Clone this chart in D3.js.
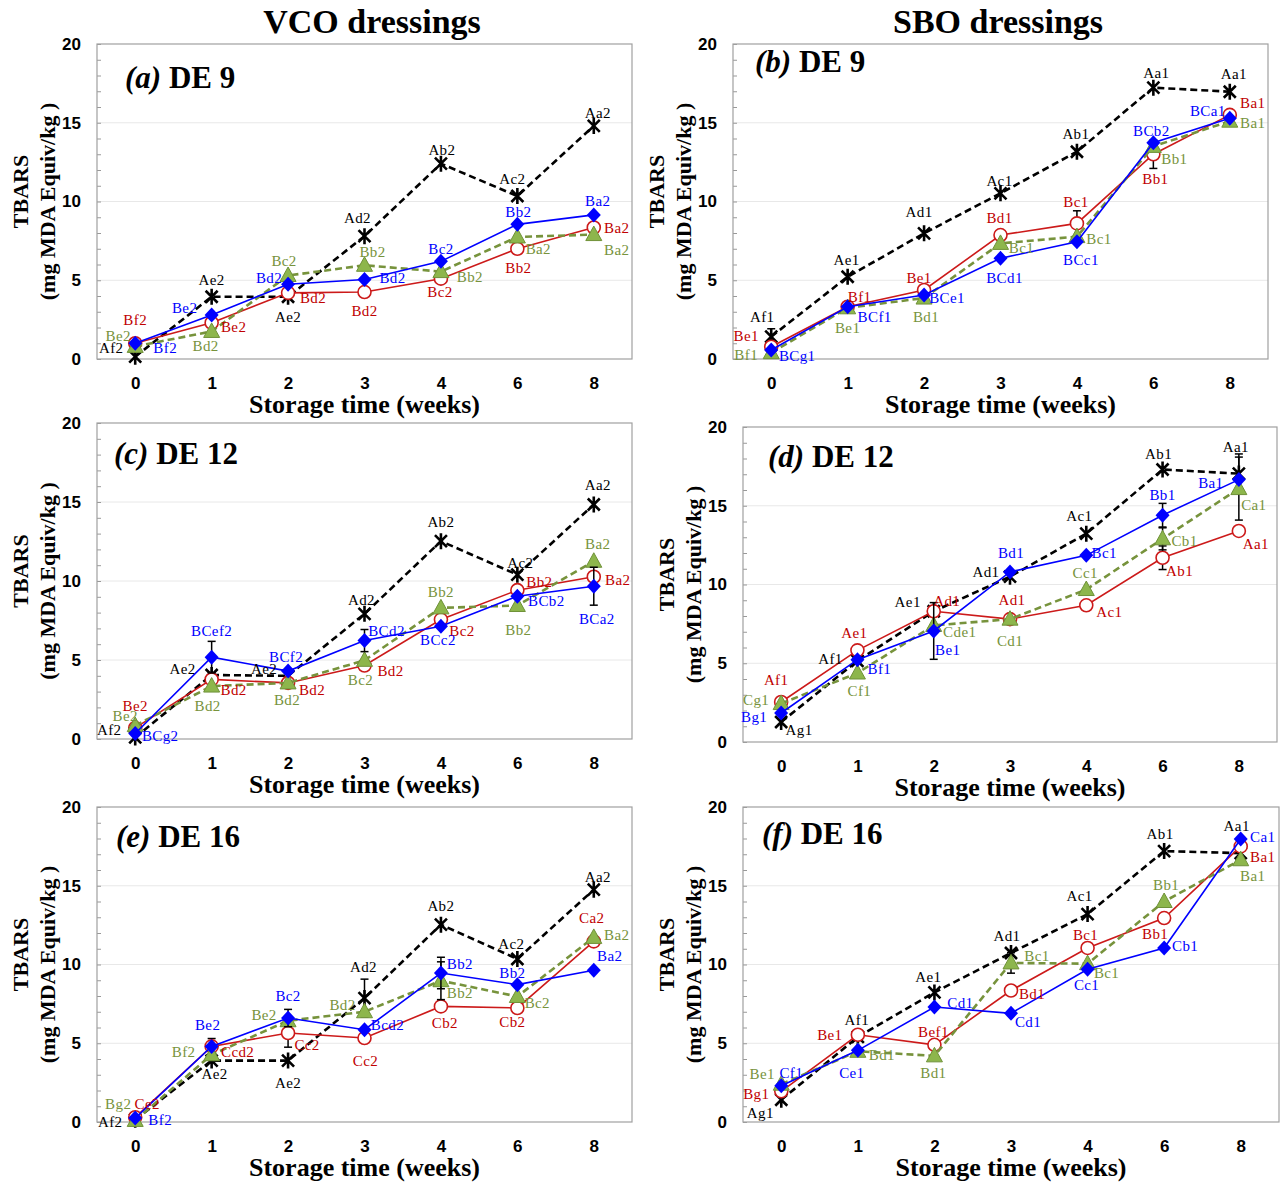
<!DOCTYPE html>
<html>
<head>
<meta charset="utf-8">
<script src="https://cdn.jsdelivr.net/npm/d3@7"></script>
<style>
  body { margin: 0; background: #fff; }
  svg { display: block; font-family: "Liberation Serif", "Times New Roman", serif; }
  .tick text { font-weight: bold; font-size: 17px; fill: #000; }
</style>
</head>
<body>
<svg id="chart" width="1282" height="1183"></svg>
<script>
var weeks = ["0", "1", "2", "3", "4", "6", "8"];
var yTicks = [0, 5, 10, 15, 20];
var seriesKeys = ["black", "red", "green", "blue"];

// values per panel, series order: black, red, green, blue
var valuesA = [
  [0.15, 3.95, 3.95, 7.8, 12.4, 10.35, 14.8],
  [1.0, 2.3, 4.2, 4.25, 5.1, 7.0, 8.35],
  [0.8, 1.75, 5.3, 5.95, 5.55, 7.75, 7.9],
  [1.0, 2.8, 4.75, 5.05, 6.2, 8.55, 9.15]
];
var valuesB = [
  [1.42, 5.22, 7.98, 10.52, 13.16, 17.23, 16.97],
  [0.78, 3.32, 4.38, 7.87, 8.61, 13.0, 15.5],
  [0.4, 3.25, 3.87, 7.34, 7.77, 13.5, 15.1],
  [0.57, 3.32, 4.06, 6.39, 7.45, 13.73, 15.28]
];
var valuesC = [
  [0.1, 4.05, 4.0, 7.92, 12.52, 10.4, 14.84],
  [0.7, 3.77, 3.55, 4.65, 7.56, 9.42, 10.27],
  [0.85, 3.35, 3.55, 4.98, 8.3, 8.45, 11.25],
  [0.35, 5.18, 4.3, 6.23, 7.14, 9.04, 9.67]
];
var valuesD = [
  [1.27, 5.15, 8.3, 10.5, 13.23, 17.3, 17.04],
  [2.54, 5.82, 8.3, 7.8, 8.68, 11.7, 13.4],
  [2.44, 4.38, 7.4, 7.8, 9.68, 12.9, 16.09],
  [1.84, 5.23, 7.05, 10.8, 11.85, 14.4, 16.66]
];
var valuesE = [
  [0.15, 3.9, 3.9, 7.87, 12.53, 10.35, 14.75],
  [0.3, 4.8, 5.65, 5.33, 7.34, 7.24, 11.47],
  [0.1, 4.27, 6.43, 7.0, 8.97, 7.97, 11.72],
  [0.25, 4.8, 6.6, 5.86, 9.46, 8.72, 9.63]
];
var valuesF = [
  [1.41, 5.4, 8.23, 10.73, 13.2, 17.2, 17.07],
  [1.95, 5.54, 4.9, 8.35, 11.05, 12.95, 17.5],
  [2.4, 4.49, 4.2, 10.1, 10.05, 14.0, 16.65],
  [2.3, 4.55, 7.3, 6.9, 9.7, 11.05, 17.97]
];

var errorsA = [
  [0, 0, 0, 0, 0, 0, 0], [0, 0, 0, 0, 0, 0, 0], [0, 0, 0, 0, 0, 0, 0], [0, 0, 0, 0, 0, 0, 0]
];
var errorsB = [
  [0.5, 0, 0, 0, 0, 0, 0], [0, 0, 0, 0, 0.8, 0.9, 0], [0, 0, 0, 0, 0, 0, 0], [0, 0, 0, 0, 0, 0, 0]
];
var errorsC = [
  [0, 0, 0, 0, 0, 0, 0], [0, 0, 0, 0, 0, 0, 0], [0, 0, 0, 0, 0, 0, 0], [0, 1.0, 0, 0.7, 0, 0, 1.2]
];
var errorsD = [
  [0, 0, 0, 0, 0, 0, 1.25], [0, 0, 0, 0, 0, 0.75, 0], [0, 0, 0, 0, 0, 0.7, 2.0], [0, 0, 1.8, 0, 0, 0.75, 0]
];
var errorsE = [
  [0, 0, 0, 1.2, 0, 0, 0], [0, 0.5, 0.9, 0, 0, 0, 0], [0, 0, 0, 0, 1.2, 0, 0], [0, 0, 0.55, 0, 1.0, 0, 0]
];
var errorsF = [
  [0, 0, 0, 0, 0, 0, 0], [0, 0, 0, 0, 0, 0, 0], [0, 0, 0, 0.65, 0, 0, 0], [0, 0, 0, 0, 0, 0, 0]
];

var labelsA = [
  ["Af2", "Ae2", "Ae2", "Ad2", "Ab2", "Ac2", "Aa2"],
  ["Bf2", "Be2", "Bd2", "Bd2", "Bc2", "Bb2", "Ba2"],
  ["Be2", "Bd2", "Bc2", "Bb2", "Bb2", "Ba2", "Ba2"],
  ["Bf2", "Be2", "Bd2", "Bd2", "Bc2", "Bb2", "Ba2"]
];
var labelsB = [
  ["Af1", "Ae1", "Ad1", "Ac1", "Ab1", "Aa1", "Aa1"],
  ["Be1", "Bf1", "Be1", "Bd1", "Bc1", "Bb1", "Ba1"],
  ["Bf1", "Be1", "Bd1", "Bc1", "Bc1", "Bb1", "Ba1"],
  ["BCg1", "BCf1", "BCe1", "BCd1", "BCc1", "BCb2", "BCa1"]
];
var labelsC = [
  ["Af2", "Ae2", "Ae2", "Ad2", "Ab2", "Ac2", "Aa2"],
  ["Be2", "Bd2", "Bd2", "Bd2", "Bc2", "Bb2", "Ba2"],
  ["Be2", "Bd2", "Bd2", "Bc2", "Bb2", "Bb2", "Ba2"],
  ["BCg2", "BCef2", "BCf2", "BCd2", "BCc2", "BCb2", "BCa2"]
];
var labelsD = [
  ["Ag1", "Af1", "Ae1", "Ad1", "Ac1", "Ab1", "Aa1"],
  ["Af1", "Ae1", "Ad1", "Ad1", "Ac1", "Ab1", "Aa1"],
  ["Cg1", "Cf1", "Cde1", "Cd1", "Cc1", "Cb1", "Ca1"],
  ["Bg1", "Bf1", "Be1", "Bd1", "Bc1", "Bb1", "Ba1"]
];
var labelsE = [
  ["Af2", "Ae2", "Ae2", "Ad2", "Ab2", "Ac2", "Aa2"],
  ["Ce2", "Ccd2", "Cc2", "Cc2", "Cb2", "Cb2", "Ca2"],
  ["Bg2", "Bf2", "Be2", "Bd2", "Bb2", "Bc2", "Ba2"],
  ["Bf2", "Be2", "Bc2", "Bcd2", "Bb2", "Bb2", "Ba2"]
];
var labelsF = [
  ["Ag1", "Af1", "Ae1", "Ad1", "Ac1", "Ab1", "Aa1"],
  ["Bg1", "Be1", "Bef1", "Bd1", "Bc1", "Bb1", "Ba1"],
  ["Be1", "Bd1", "Bd1", "Bc1", "Bc1", "Bb1", "Ba1"],
  ["Cf1", "Ce1", "Cd1", "Cd1", "Cc1", "Cb1", "Ca1"]
];

// where each letter label sits, relative to its marker (px)
var offsetsA = [
  [[-24, -9], [0, -17], [0, 20], [-7, -18], [1, -14], [-5, -17], [4, -13]],
  [[0, -24], [22, 4], [25, 5], [0, 19], [-1, 13], [1, 19], [23, 0]],
  [[-17, -11], [-6, 14], [-4, -15], [8, -14], [29, 5], [21, 12], [23, 15]],
  [[30, 4], [-27, -7], [-19, -6], [28, -2], [0, -13], [1, -13], [4, -14]]
];
var offsetsB = [
  [[-9, -20], [-1, -17], [-5, -22], [-1, -13], [-1, -18], [3, -15], [4, -18]],
  [[-25, -11], [12, -10], [-5, -12], [-1, -17], [-1, -22], [2, 24], [23, -12]],
  [[-25, 2], [0, 20], [2, 19], [21, 4], [22, 2], [21, 12], [23, 2]],
  [[26, 6], [27, 10], [23, 3], [4, 19], [4, 18], [-2, -12], [-22, -8]]
];
var offsetsC = [
  [[-26, -8], [-29, -6], [-24, -7], [-3, -14], [0, -19], [3, -12], [4, -20]],
  [[0, -22], [22, 10], [24, 7], [26, 5], [21, 11], [22, -8], [24, 3]],
  [[-10, -10], [-4, 20], [-1, 17], [-4, 19], [0, -16], [1, 24], [4, -18]],
  [[25, 2], [0, -26], [-2, -14], [22, -10], [-3, 14], [29, 5], [3, 33]]
];
var offsetsD = [
  [[18, 8], [-27, -2], [-26, -10], [-24, -5], [-7, -18], [-4, -16], [-3, -27]],
  [[-5, -22], [-3, -18], [13, -11], [2, -19], [23, 6], [17, 13], [17, 13]],
  [[-25, -4], [2, 18], [26, 6], [0, 22], [-1, -17], [22, 2], [15, 16]],
  [[-27, 4], [22, 9], [14, 19], [1, -19], [18, -3], [0, -20], [-28, 3]]
];
var offsetsE = [
  [[-25, 2], [3, 13], [0, 22], [-1, -31], [0, -19], [-6, -15], [4, -13]],
  [[12, -14], [26, 5], [19, 12], [1, 23], [4, 16], [-5, 14], [-2, -24]],
  [[-17, -17], [-28, -3], [-24, -6], [-22, -7], [19, 12], [20, 6], [23, -3]],
  [[25, 2], [-4, -22], [0, -22], [23, -5], [19, -9], [-5, -12], [16, -15]]
];
var offsetsF = [
  [[-21, 13], [-1, -17], [-6, -16], [-4, -17], [-8, -18], [-4, -17], [-4, -27]],
  [[-25, 2], [-28, 0], [-1, -13], [21, 3], [-2, -13], [-9, 16], [22, 10]],
  [[-19, -10], [24, 3], [-1, 17], [26, -7], [19, 9], [2, -17], [12, 16]],
  [[10, -13], [-6, 22], [26, -4], [17, 8], [-1, 16], [21, -2], [22, -2]]
];

var panels = [
  {head: "(a)", de: "DE 9", box: [97, 44, 632, 359], headAt: [125, 88],
   values: valuesA, errors: errorsA, labels: labelsA, offsets: offsetsA},
  {head: "(b)", de: "DE 9", box: [733, 44, 1268, 359], headAt: [755, 72],
   values: valuesB, errors: errorsB, labels: labelsB, offsets: offsetsB},
  {head: "(c)", de: "DE 12", box: [97, 423, 632, 739], headAt: [114, 464],
   values: valuesC, errors: errorsC, labels: labelsC, offsets: offsetsC},
  {head: "(d)", de: "DE 12", box: [743, 427, 1277, 742], headAt: [768, 467],
   values: valuesD, errors: errorsD, labels: labelsD, offsets: offsetsD},
  {head: "(e)", de: "DE 16", box: [97, 807, 632, 1122], headAt: [116, 847],
   values: valuesE, errors: errorsE, labels: labelsE, offsets: offsetsE},
  {head: "(f)", de: "DE 16", box: [743, 807, 1279, 1122], headAt: [762, 844],
   values: valuesF, errors: errorsF, labels: labelsF, offsets: offsetsF}
];

var style = {
  black: {line: "#000", text: "#000", width: 2.6, dash: "7,4"},
  red:   {line: "#cc1a1a", text: "#c00000", width: 1.6, dash: null},
  green: {line: "#77933c", text: "#77933c", width: 2.6, dash: "7,4"},
  blue:  {line: "#0000ff", text: "#0000ff", width: 1.6, dash: null}
};

var svg = d3.select("#chart");
svg.append("rect").attr("width", 1282).attr("height", 1183).attr("fill", "#fff");

svg.append("text").attr("x", 372).attr("y", 33).attr("text-anchor", "middle")
    .attr("font-size", 34).attr("font-weight", "bold").text("VCO dressings");
svg.append("text").attr("x", 998).attr("y", 33).attr("text-anchor", "middle")
    .attr("font-size", 34).attr("font-weight", "bold").text("SBO dressings");

panels.forEach(function(p) {
  var left = p.box[0], top = p.box[1], right = p.box[2], bottom = p.box[3];

  var x = d3.scalePoint().domain(weeks).range([left, right]).padding(0.5);
  var y = d3.scaleLinear().domain([0, 20]).range([bottom, top]);

  var g = svg.append("g");

  // gridlines
  g.selectAll(".grid")
      .data(yTicks.filter(function(d) { return d > 0 && d < 20; }))
    .enter().append("line")
      .attr("x1", left).attr("x2", right)
      .attr("y1", function(d) { return y(d); })
      .attr("y2", function(d) { return y(d); })
      .attr("stroke", "#e8e8e8").attr("stroke-width", 1);

  // minor ticks on the left edge
  g.append("g")
      .attr("transform", "translate(" + left + ",0)")
      .call(d3.axisLeft(y).tickValues(d3.range(0, 21)).tickSize(-4).tickFormat(""))
      .call(function(s) {
        s.select(".domain").remove();
        s.selectAll("line").attr("stroke", "#999");
      });

  g.append("rect")
      .attr("x", left).attr("y", top)
      .attr("width", right - left).attr("height", bottom - top)
      .attr("fill", "none").attr("stroke", "#a0a0a0").attr("stroke-width", 1.2);

  // y axis labels
  g.append("g")
      .attr("transform", "translate(" + left + ",0)")
      .call(d3.axisLeft(y).tickValues(yTicks).tickSize(0).tickPadding(16))
      .call(function(s) { s.select(".domain").remove(); });

  // x axis labels
  g.append("g")
      .attr("transform", "translate(0," + bottom + ")")
      .call(d3.axisBottom(x).tickSize(0).tickPadding(18))
      .call(function(s) { s.select(".domain").remove(); });

  g.append("text")
      .attr("x", (left + right) / 2).attr("y", bottom + 54)
      .attr("text-anchor", "middle").attr("font-size", 26).attr("font-weight", "bold")
      .text("Storage time (weeks)");

  var cy = (top + bottom) / 2;
  g.append("text")
      .attr("transform", "translate(" + (left - 77) + "," + (cy - 10) + ") rotate(-90)")
      .attr("dy", "0.35em")
      .attr("text-anchor", "middle").attr("font-size", 22).attr("font-weight", "bold")
      .text("TBARS");
  g.append("text")
      .attr("transform", "translate(" + (left - 50) + "," + cy + ") rotate(-90)")
      .attr("dy", "0.35em")
      .attr("text-anchor", "middle").attr("font-size", 22).attr("font-weight", "bold")
      .text("(mg MDA Equiv/kg )");

  var head = g.append("text")
      .attr("x", p.headAt[0]).attr("y", p.headAt[1])
      .attr("font-size", 31).attr("font-weight", "bold");
  head.append("tspan").attr("font-style", "italic").text(p.head);
  head.append("tspan").text(" " + p.de);

  var line = d3.line()
      .x(function(d, i) { return x(weeks[i]); })
      .y(function(d) { return y(d); });

  seriesKeys.forEach(function(key, si) {
    var st = style[key];
    var vals = p.values[si];
    var errs = p.errors[si];

    g.append("path")
        .attr("d", line(vals))
        .attr("fill", "none")
        .attr("stroke", st.line)
        .attr("stroke-width", st.width)
        .attr("stroke-dasharray", st.dash);

    var pts = vals.map(function(v, i) { return {x: x(weeks[i]), v: v, e: errs[i]}; });

    var eb = g.selectAll(null).data(pts.filter(function(d) { return d.e > 0; }))
      .enter().append("g").attr("stroke", "#000").attr("stroke-width", 1.5);
    eb.append("line")
        .attr("x1", function(d) { return d.x; }).attr("x2", function(d) { return d.x; })
        .attr("y1", function(d) { return y(d.v - d.e); })
        .attr("y2", function(d) { return y(d.v + d.e); });
    [-1, 1].forEach(function(sgn) {
      eb.append("line")
          .attr("x1", function(d) { return d.x - 4; }).attr("x2", function(d) { return d.x + 4; })
          .attr("y1", function(d) { return y(d.v + sgn * d.e); })
          .attr("y2", function(d) { return y(d.v + sgn * d.e); });
    });

    var m = g.selectAll(null).data(pts).enter().append("g")
        .attr("transform", function(d) { return "translate(" + d.x + "," + y(d.v) + ")"; });

    if (key === "black") {
      m.append("path").attr("d", "M-6,-6L6,6M-6,6L6,-6M0,-8L0,8")
          .attr("stroke", "#000").attr("stroke-width", 2.6);
    } else if (key === "red") {
      m.append("circle").attr("r", 6.5)
          .attr("fill", "#fff").attr("stroke", "#cc1a1a").attr("stroke-width", 1.6);
    } else if (key === "green") {
      m.append("path").attr("d", "M0,-8.5L8,6L-8,6Z")
          .attr("fill", "#8db64c").attr("stroke", "#6f9138").attr("stroke-width", 1);
    } else {
      m.append("path").attr("d", "M0,-7.5L7,0L0,7.5L-7,0Z").attr("fill", "#0000ff");
    }
  });

  // letter labels on top
  seriesKeys.forEach(function(key, si) {
    var vals = p.values[si];
    g.selectAll(null).data(vals).enter().append("text")
        .attr("x", function(d, i) { return x(weeks[i]) + p.offsets[si][i][0]; })
        .attr("y", function(d, i) { return y(d) + p.offsets[si][i][1]; })
        .attr("dy", "0.35em")
        .attr("text-anchor", "middle")
        .attr("font-size", 15)
        .attr("letter-spacing", 0.4)
        .attr("fill", style[key].text)
        .text(function(d, i) { return p.labels[si][i]; });
  });
});
</script>
</body>
</html>
